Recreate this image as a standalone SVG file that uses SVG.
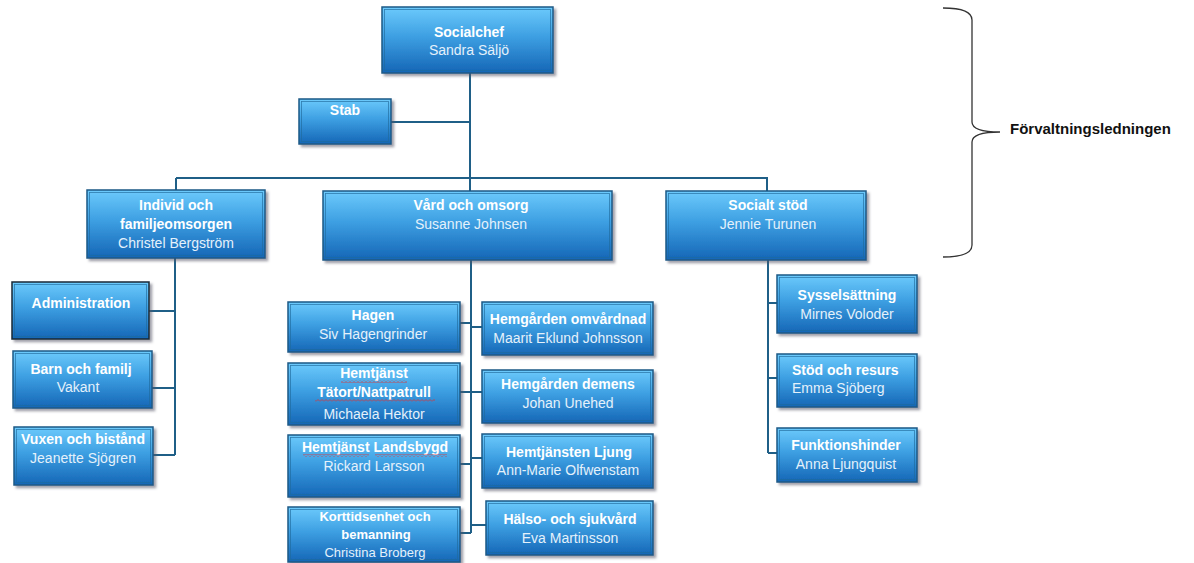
<svg xmlns="http://www.w3.org/2000/svg" width="1194" height="563" viewBox="0 0 1194 563">
<defs>
<linearGradient id="g" x1="0" y1="0" x2="0" y2="1">
<stop offset="0" stop-color="#6ccafc"/>
<stop offset="0.45" stop-color="#3d9fe2"/>
<stop offset="1" stop-color="#1566b6"/>
</linearGradient>
<filter id="sh" x="-10%" y="-10%" width="130%" height="130%">
<feDropShadow dx="2.5" dy="2.5" stdDeviation="1.2" flood-color="#556" flood-opacity="0.55"/>
</filter>
<pattern id="wavy" width="4" height="3" patternUnits="userSpaceOnUse">
<path d="M0 2.5 L2 0.5 L4 2.5" fill="none" stroke="#e03030" stroke-width="0.8"/>
</pattern>
</defs>
<style>
.box{fill:url(#g);stroke:#1d5a86;stroke-width:1.5;filter:url(#sh)}
.in{fill:none;stroke:#1f6a9c;stroke-width:0.8;opacity:0.8}
.t{font-family:"Liberation Sans",Arial,sans-serif;font-size:14px;text-anchor:middle}
.b{font-weight:bold;fill:#ffffff}
.n{fill:#e4f1fb}
.s{font-size:13px}
.st{text-anchor:start}
.c{fill:none;stroke:#1f5f87;stroke-width:2}
</style>
<g id="connectors">
<path class="c" d="M470 73 V178 M391 122 H470 M176 178 H768 M176 178 V190 M470 178 V191 M767 178 V191"/>
<path class="c" d="M175 258 V455 M149 311 H175 M152 388 H175 M153 455 H175"/>
<path class="c" d="M471 260 V533 M460 323 H471 M460 392 H482 M460 464 H471 M460 533 H471 M471 327 H482 M471 458 H482 M471 525 H486"/>
<path class="c" d="M768 260 V453 M768 303 H777 M768 378 H777 M768 453 H777"/>
</g>
<g id="socialchef"><rect class="box" x="382" y="7" width="171" height="66"/><rect class="in" x="384.5" y="9.5" width="166" height="61"/>
<text class="t b" x="469" y="37">Socialchef</text><text class="t n" x="469" y="55">Sandra Säljö</text></g>
<g id="stab"><rect class="box" x="299" y="99" width="92" height="45"/><rect class="in" x="301.5" y="101.5" width="87" height="40"/>
<text class="t b" x="345" y="115">Stab</text></g>
<g id="individ"><rect class="box" x="87" y="190" width="178" height="68"/><rect class="in" x="89.5" y="192.5" width="173" height="63"/>
<text class="t b" x="176" y="210">Individ och</text><text class="t b" x="176" y="229">familjeomsorgen</text><text class="t n" x="176" y="248">Christel Bergström</text></g>
<g id="vard"><rect class="box" x="323" y="191" width="289" height="69"/><rect class="in" x="325.5" y="193.5" width="284" height="64"/>
<text class="t b" x="471" y="210">Vård och omsorg</text><text class="t n" x="471" y="229">Susanne Johnsen</text></g>
<g id="socialt"><rect class="box" x="666" y="191" width="200" height="69"/><rect class="in" x="668.5" y="193.5" width="195" height="64"/>
<text class="t b" x="768" y="210">Socialt stöd</text><text class="t n" x="768" y="229">Jennie Turunen</text></g>
<g id="admin"><rect class="box" x="12" y="282" width="137" height="57" style="stroke:#1a2a36"/><rect class="in" x="14.5" y="284.5" width="132" height="52"/>
<text class="t b" x="81" y="308">Administration</text></g>
<g id="barn"><rect class="box" x="13" y="351" width="139" height="57"/><rect class="in" x="15.5" y="353.5" width="134" height="52"/>
<text class="t b" x="81" y="374">Barn och familj</text><text class="t n" x="78" y="392">Vakant</text></g>
<g id="vuxen"><rect class="box" x="14" y="427" width="139" height="58"/><rect class="in" x="16.5" y="429.5" width="134" height="53"/>
<text class="t b" x="83" y="444">Vuxen och bistånd</text><text class="t n" x="83" y="463">Jeanette Sjögren</text></g>
<g id="hagen"><rect class="box" x="288" y="302" width="172" height="50"/><rect class="in" x="290.5" y="304.5" width="167" height="45"/>
<text class="t b" x="373" y="320">Hagen</text><text class="t n" x="373" y="339">Siv Hagengrinder</text></g>
<g id="omvardnad"><rect class="box" x="482" y="302" width="171" height="53"/><rect class="in" x="484.5" y="304.5" width="166" height="48"/>
<text class="t b" x="568" y="324">Hemgården omvårdnad</text><text class="t n" x="568" y="343">Maarit Eklund Johnsson</text></g>
<g id="tatort"><rect class="box" x="288" y="363" width="172" height="62"/><rect class="in" x="290.5" y="365.5" width="167" height="57"/>
<text class="t b" x="374" y="378">Hemtjänst</text><text class="t b" x="374" y="397">Tätort/Nattpatrull</text><text class="t n" x="374" y="419">Michaela Hektor</text>
<rect x="341" y="380" width="66" height="3" fill="url(#wavy)"/><rect x="315" y="399" width="120" height="3" fill="url(#wavy)"/></g>
<g id="demens"><rect class="box" x="482" y="370" width="171" height="53"/><rect class="in" x="484.5" y="372.5" width="166" height="48"/>
<text class="t b" x="568" y="389">Hemgården demens</text><text class="t n" x="568" y="408">Johan Unehed</text></g>
<g id="landsbygd"><rect class="box" x="288" y="435" width="172" height="62"/><rect class="in" x="290.5" y="437.5" width="167" height="57"/>
<text class="t b" x="375" y="452">Hemtjänst Landsbygd</text><text class="t n" x="374" y="471">Rickard Larsson</text>
<rect x="303" y="454" width="66" height="3" fill="url(#wavy)"/><rect x="375" y="454" width="72" height="3" fill="url(#wavy)"/></g>
<g id="ljung"><rect class="box" x="482" y="434" width="171" height="54"/><rect class="in" x="484.5" y="436.5" width="166" height="49"/>
<text class="t b" x="569" y="457">Hemtjänsten Ljung</text><text class="t n" x="568" y="475">Ann-Marie Olfwenstam</text></g>
<g id="korttid"><rect class="box" x="288" y="507" width="172" height="55"/><rect class="in" x="290.5" y="509.5" width="167" height="50"/>
<text class="t b s" x="375" y="521">Korttidsenhet och</text><text class="t b s" x="376" y="539">bemanning</text><text class="t n s" x="375" y="557">Christina Broberg</text></g>
<g id="halso"><rect class="box" x="486" y="501" width="167" height="54"/><rect class="in" x="488.5" y="503.5" width="162" height="49"/>
<text class="t b" x="570" y="524">Hälso- och sjukvård</text><text class="t n" x="570" y="543">Eva Martinsson</text></g>
<g id="syssel"><rect class="box" x="777" y="275" width="140" height="58"/><rect class="in" x="779.5" y="277.5" width="135" height="53"/>
<text class="t b" x="847" y="300">Sysselsättning</text><text class="t n" x="847" y="319">Mirnes Voloder</text></g>
<g id="stod"><rect class="box" x="777" y="354" width="140" height="53"/><rect class="in" x="779.5" y="356.5" width="135" height="48"/>
<text class="t b st" x="792" y="375">Stöd och resurs</text><text class="t n st" x="792" y="393">Emma Sjöberg</text></g>
<g id="funk"><rect class="box" x="777" y="428" width="140" height="54"/><rect class="in" x="779.5" y="430.5" width="135" height="49"/>
<text class="t b" x="846" y="450">Funktionshinder</text><text class="t n" x="846" y="469">Anna Ljungquist</text></g>
<g id="brace">
<path d="M943 8 Q972 8 972 20 V122 Q972 132 1000 132 Q972 132 972 142 V245 Q972 257 943 257" fill="none" stroke="#333" stroke-width="1.3"/>
<text x="1010" y="134" style="font-family:'Liberation Sans',Arial,sans-serif;font-size:15px;font-weight:bold;fill:#111">Förvaltningsledningen</text>
</g>
</svg>
